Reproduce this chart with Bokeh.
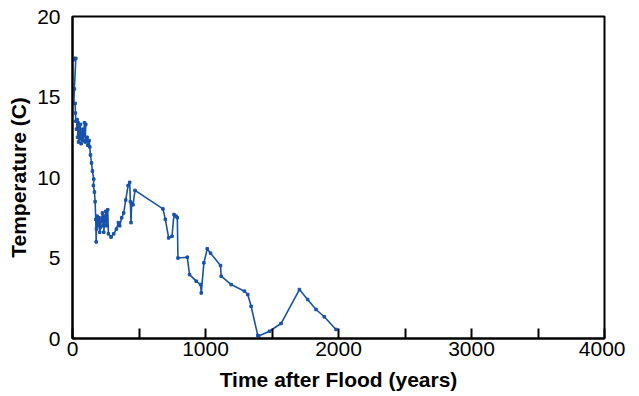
from bokeh.plotting import figure
from bokeh.models import Range1d, FixedTicker
from bokeh.embed import file_html
from bokeh.resources import INLINE

years = [5, 12, 25, 14, 10, 20, 22, 25, 35, 30, 42, 38, 50, 45, 60, 55, 68, 65, 75, 80, 90, 85,
         100, 95, 110, 115, 125, 130, 135, 143, 150, 160, 157, 165, 170, 175, 178, 180, 185, 195,
         200, 205, 215, 210, 225, 230, 240, 235, 250, 255, 265, 270, 290, 310, 330, 345, 355, 370,
         385, 400, 418, 430, 435, 440, 445, 455, 470, 680, 698, 723, 748, 763, 778, 788, 793, 863,
         880, 930, 963, 968, 988, 1013, 1038, 1113, 1118, 1193, 1293, 1318, 1343, 1393, 1400, 1481,
         1568, 1706, 1768, 1831, 1893, 1981]
temps = [17.3, 17.4, 17.4, 15.5, 14.6, 14.6, 14.0, 13.5, 13.6, 13.0, 13.4, 12.5, 13.2, 12.2, 13.3,
         12.4, 12.8, 12.1, 13.0, 12.3, 13.4, 12.6, 13.3, 12.2, 12.5, 12.0, 12.3, 11.9, 11.4, 10.9,
         10.4, 9.9, 9.5, 9.1, 8.5, 7.4, 6.0, 6.8, 7.6, 7.0, 7.5, 6.6, 7.3, 6.9, 7.8, 7.0, 7.6, 6.6,
         7.9, 7.0, 8.0, 6.5, 6.3, 6.5, 6.8, 7.2, 7.0, 7.5, 7.8, 8.6, 9.5, 9.7, 8.5, 7.2, 8.4, 8.3,
         9.2, 8.05, 7.4, 6.25, 6.35, 7.7, 7.6, 7.5, 5.0, 5.05, 3.97, 3.56, 3.35, 2.83, 4.7, 5.57,
         5.3, 4.53, 3.87, 3.35, 2.94, 2.73, 2.0, 0.19, 0.15, 0.45, 0.93, 3.04, 2.42, 1.8, 1.35, 0.56]

x_ticks = [0, 500, 1000, 1500, 2000, 2500, 3000, 3500, 4000]
x_tick_labels = ["0", "", "1000", "", "2000", "", "3000", "", "4000"]
y_ticks = [0, 5, 10, 15, 20]

FONT = "Liberation Sans"
COLOR = "#1852aa"

p = figure(width=625, height=394, output_backend="svg", toolbar_location=None,
           x_range=Range1d(0, 4000), y_range=Range1d(0, 20),
           min_border_left=72, min_border_right=21, min_border_top=16, min_border_bottom=56)

p.line(years, temps, line_color=COLOR, line_width=1.6)
p.scatter(years, temps, marker="square", size=2.5, color=COLOR)

p.xgrid.visible = False
p.ygrid.visible = False
p.outline_line_color = "black"
p.outline_line_width = 2
p.outline_line_alpha = 1

p.xaxis.ticker = FixedTicker(ticks=x_ticks)
p.xaxis.major_label_overrides = {t: l for t, l in zip(x_ticks, x_tick_labels)}
p.yaxis.ticker = FixedTicker(ticks=y_ticks)

for ax in (p.xaxis[0], p.yaxis[0]):
    ax.axis_line_width = 2
    ax.axis_line_color = "black"
    ax.minor_tick_line_color = None
    ax.major_label_text_font = FONT
    ax.major_label_text_font_size = "21px"
    ax.major_label_text_color = "black"
    ax.axis_label_text_font = FONT
    ax.axis_label_text_font_size = "21px"
    ax.axis_label_text_font_style = "bold"
    ax.axis_label_text_color = "black"

p.xaxis.major_tick_in = 10
p.xaxis.major_tick_out = 0
p.xaxis.major_tick_line_width = 2
p.xaxis.major_label_standoff = 3
p.yaxis.major_tick_line_color = None
p.yaxis.major_label_standoff = 6

p.xaxis.axis_label = "Time after Flood (years)"
p.yaxis.axis_label = "Temperature (C)"
p.xaxis.axis_label_standoff = 9
p.yaxis.axis_label_standoff = 4

open("out.html", "w").write(file_html(p, INLINE))
